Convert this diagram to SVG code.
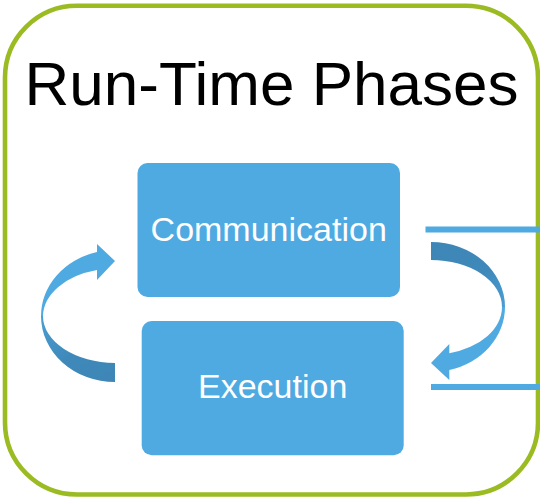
<svg xmlns="http://www.w3.org/2000/svg" width="540" height="501" viewBox="0 0 540 501">
  <style>
    .frame { fill: #ffffff; stroke: #9BBB23; stroke-width: 4.6; }
    .box { fill: #4FAAE2; }
    .label { font-family: "Liberation Sans", Arial, sans-serif; fill: #ffffff; font-size: 34px; text-anchor: middle; }
    .title { font-family: "Liberation Sans", Arial, sans-serif; fill: #000000; font-size: 62px; text-anchor: middle; }
    .light { fill: #4FAAE2; }
    .link { stroke: #4FAAE2; stroke-width: 6; fill: none; }
  </style>
  <defs>
    <linearGradient id="shadeLeft" x1="0" y1="0" x2="1" y2="1">
      <stop offset="0" stop-color="#4A9DD3"/>
      <stop offset="0.5" stop-color="#3F89BA"/>
      <stop offset="1" stop-color="#3D86B6"/>
    </linearGradient>
    <linearGradient id="shadeRight" x1="0" y1="0" x2="1" y2="1">
      <stop offset="0" stop-color="#3D86B6"/>
      <stop offset="0.6" stop-color="#3F89BA"/>
      <stop offset="1" stop-color="#4A9DD3"/>
    </linearGradient>
  </defs>

  <!-- outer frame and heading -->
  <rect class="frame" x="5" y="5.8" width="533" height="488.7" rx="72" ry="72"/>
  <text class="title" x="271.5" y="105">Run-Time Phases</text>

  <g id="communication">
    <rect class="box" x="137.5" y="163" width="262.5" height="134" rx="10" ry="10"/>
    <text class="label" x="268.7" y="241">Communication</text>
  </g>

  <g id="execution">
    <rect class="box" x="141.7" y="321" width="262" height="134.3" rx="10" ry="10"/>
    <text class="label" x="272.7" y="398.3">Execution</text>
  </g>

  <g id="connectors">
    <!-- curved arrow on the left: execution back to communication -->
    <path fill="url(#shadeLeft)" d="M 41,316 A 74,66 0 0 0 115,382 L 115,363 A 73,47 0 0 1 43,316 Z"/>
    <path class="light" d="M 41,316 A 74,66 0 0 1 97,252 L 97,244 L 115,261 L 97,280 L 97,270 A 72,48 0 0 0 43,316 Z"/>

    <!-- curved arrow on the right: communication on to execution -->
    <path fill="url(#shadeRight)" d="M 431,242 A 74,65 0 0 1 505,307 L 502,307 A 71,47 0 0 0 431,260 Z"/>
    <path class="light" d="M 505,307 A 74,65 0 0 1 449.3,370 L 449.3,380 L 431,363 L 449.3,344 L 449.3,353.3 A 71,48 0 0 0 502,307 Z"/>

    <!-- lines leaving to the right edge -->
    <line class="link" x1="425.5" y1="229.5" x2="540" y2="229.5"/>
    <line class="link" x1="431" y1="387" x2="540" y2="387"/>
  </g>
</svg>
